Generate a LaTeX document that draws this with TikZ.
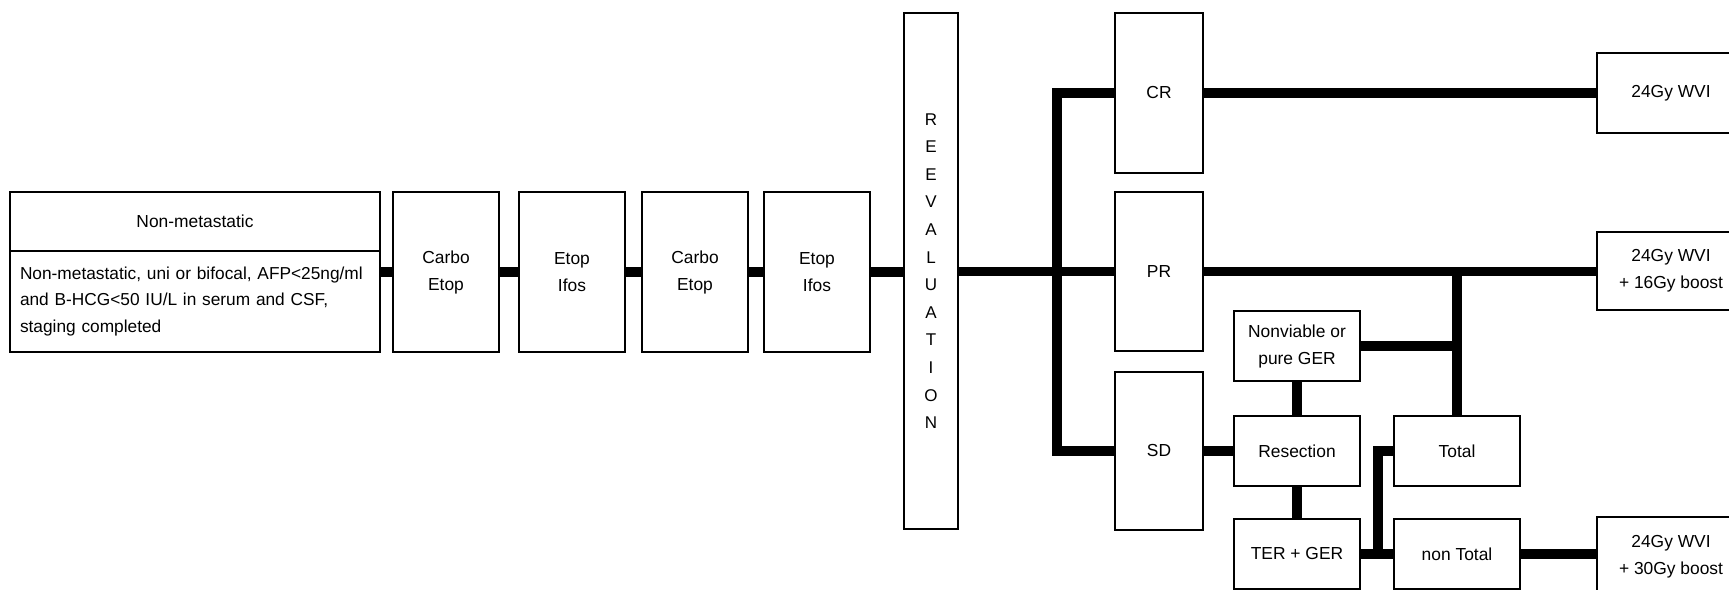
\documentclass[tikz,border=0pt]{standalone}
\usepackage{fontspec}
\setmainfont{Liberation Sans}
\begin{document}
\begin{tikzpicture}[x=1pt,y=-1pt,
  box/.style={draw, line width=1.9pt, inner sep=0pt, align=center, fill=white,
    font=\fontsize{17.4}{27}\selectfont},
  link/.style={line width=9.5pt}]
\useasboundingbox (0,0) rectangle (1729,589);
% left part
\node[box, minimum width=370pt, minimum height=59pt] (nmt) at (195,221.5) {Non-metastatic};
\node[box, minimum width=370pt, minimum height=101pt, text width=350pt, align=left,
  font=\fontsize{17.3}{26.7}\selectfont] (nmb) at (195,301.5)
  {Non-metastatic, uni or bifocal, AFP<25ng/ml\\and B-HCG<50 IU/L in serum and CSF,\\staging completed};
\node[box, minimum width=106pt, minimum height=160pt] (ce1) at (446,272) {Carbo\\Etop};
\node[box, minimum width=106pt, minimum height=160pt] (ei1) at (572,272) {Etop\\Ifos};
\node[box, minimum width=106pt, minimum height=160pt] (ce2) at (695,272) {Carbo\\Etop};
\node[box, minimum width=106pt, minimum height=160pt] (ei2) at (817,272) {Etop\\Ifos};
\node[box, minimum width=54pt, minimum height=516pt, font=\fontsize{17}{27.6}\selectfont] (reeval) at (931,271)
  {R\\E\\E\\V\\A\\L\\U\\A\\T\\I\\O\\N};
% response boxes
\node[box, minimum width=88pt, minimum height=160pt] (cr) at (1159,93) {CR};
\node[box, minimum width=88pt, minimum height=159pt] (pr) at (1159,271.5) {PR};
\node[box, minimum width=88pt, minimum height=158pt] (sd) at (1159,451) {SD};
% right boxes
\node[box, minimum width=148pt, minimum height=80pt] (wvi1) at (1671,93) {24Gy WVI};
\node[box, minimum width=148pt, minimum height=78pt] (wvi16) at (1671,271) {24Gy WVI\\+ 16Gy boost};
\node[box, minimum width=148pt, minimum height=80pt] (wvi30) at (1671,557) {24Gy WVI\\+ 30Gy boost};
% surgery boxes
\node[box, minimum width=126pt, minimum height=70pt] (nonv) at (1297,346) {Nonviable or\\pure GER};
\node[box, minimum width=126pt, minimum height=70pt] (resec) at (1297,451) {Resection};
\node[box, minimum width=126pt, minimum height=70pt] (ter) at (1297,554) {TER + GER};
\node[box, minimum width=126pt, minimum height=70pt] (total) at (1457,451) {Total};
\node[box, minimum width=126pt, minimum height=70pt] (ntot) at (1457,554) {non Total};
% junction coordinates
\coordinate (jtop) at (1057,93);
\coordinate (jbot) at (1057,451);
\coordinate (kb) at (1378,554);
\coordinate (kt) at (1378,451);
% connectors
\draw[link] (nmb.east |- ce1.west) -- (ce1.west);
\draw[link] (ce1.east) -- (ei1.west);
\draw[link] (ei1.east) -- (ce2.west);
\draw[link] (ce2.east) -- (ei2.west);
\draw[link] (ei2.east) -- (reeval.west |- ei2.east);
\draw[link] (reeval.east |- pr.west) -- (pr.west);
\draw[link] (cr.west) -- (jtop) -- (jbot) -- (sd.west);
\draw[link] (cr.east) -- (wvi1.west);
\draw[link] (pr.east) -- (wvi16.west |- pr.east);
\draw[link] (total.north |- pr.east) -- (total.north);
\draw[link] (nonv.east) -- (total.north |- nonv.east);
\draw[link] (nonv.south) -- (resec.north);
\draw[link] (sd.east |- resec.west) -- (resec.west);
\draw[link] (resec.south) -- (ter.north);
\draw[link] (ter.east) -- (ntot.west);
\draw[link] (kb) -- (kt) -- (total.west);
\draw[link] (ntot.east) -- (wvi30.west |- ntot.east);
\end{tikzpicture}
\end{document}
